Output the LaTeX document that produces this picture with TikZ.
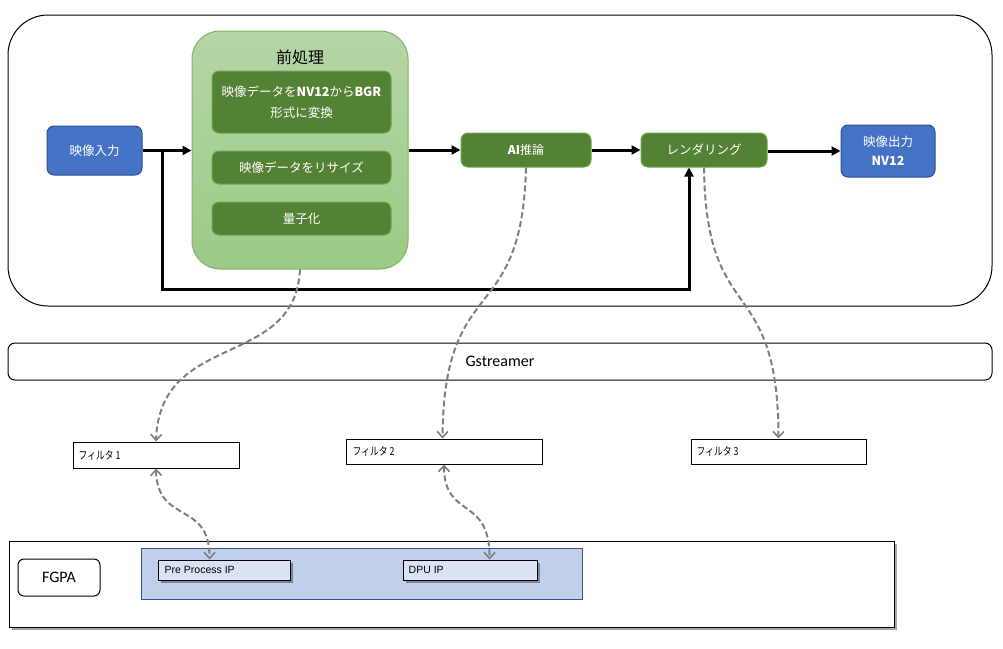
\documentclass[tikz,border=0pt]{standalone}
\usepackage{fontspec}
\setmainfont{Carlito}
\newfontfamily\jp{Noto Sans CJK JP}
\newfontfamily\lsans{Liberation Sans}
\usetikzlibrary{arrows.meta,shadows,calc}
\definecolor{bfill}{HTML}{4472C4}
\definecolor{bdraw}{HTML}{2F528F}
\definecolor{gtop}{HTML}{B5D6A7}
\definecolor{gbot}{HTML}{9CCA86}
\definecolor{gdraw}{HTML}{82B366}
\definecolor{dgfill}{HTML}{548235}
\definecolor{dgdraw}{HTML}{6AA84F}
\definecolor{regfill}{HTML}{C0CFEA}
\definecolor{regdraw}{HTML}{2F5597}
\definecolor{ipfill}{HTML}{DAE3F3}
\definecolor{dashgray}{HTML}{808080}
\begin{document}
\begin{tikzpicture}[x=1pt,y=-1pt,
  bx/.style 2 args={inner sep=0pt, minimum width=#1pt, minimum height=#2pt},
  bluebox/.style={fill=bfill, draw=bdraw, line width=1pt, rounded corners=7pt, text=white, align=center,
    font=\jp\fontsize{12.5}{19}\selectfont},
  greenbox/.style={fill=dgfill, draw=dgdraw, line width=1pt, rounded corners=7pt, text=white, align=center,
    font=\jp\fontsize{12.5}{21}\selectfont},
  plain/.style={draw=black, line width=1pt, fill=white},
  ftext/.style={anchor=west, inner sep=0pt, font=\jp\fontsize{11}{13}\selectfont},
  iptext/.style={anchor=west, inner sep=0pt, font=\lsans\fontsize{10.5}{12}\selectfont},
  blk/.style={line width=3pt, -{Triangle[length=9pt,width=9pt]}},
  dsh/.style={draw=dashgray, line width=2pt, dash pattern=on 6pt off 3pt},
  tipA/.style={-{Straight Barb[length=6pt,width=11pt,line width=1.6pt]}},
  tipB/.style={{Straight Barb[length=6pt,width=11pt,line width=1.6pt]}-{Straight Barb[length=6pt,width=11pt,line width=1.6pt]}},
  shd/.style={drop shadow={shadow xshift=2.5pt, shadow yshift=-2.5pt, opacity=0.35, fill=black}}
]
\useasboundingbox (0,0) rectangle (1003,648);
\fill[white] (0,0) rectangle (1003,648);

% outer application container
\node[bx={984}{291}, draw=black, line width=1pt, rounded corners=40pt] (outer) at (500,160.5) {};

% input
\node[bluebox, bx={95}{49}] (in) at (94.5,150.5) {映像入力};

% preprocessing group
\node[bx={216}{238}, draw=gdraw, line width=1pt, rounded corners=28pt, top color=gtop, bottom color=gbot] (pre) at (300,150) {};
\node[inner sep=0pt, font=\jp\fontsize{16}{18}\selectfont] (pret) at (300,57) {前処理};
\node[greenbox, bx={179}{62}] (p1) at (301.5,102) {映像データを{\bfseries NV12}から{\bfseries BGR}\\形式に変換};
\node[greenbox, bx={179}{33}] (p2) at (301.5,167.5) {映像データをリサイズ};
\node[greenbox, bx={179}{33}] (p3) at (301.5,218.5) {量子化};

% inference, rendering, output
\node[greenbox, bx={130}{34}, font=\jp\fontsize{12}{14}\selectfont] (ai) at (526,150) {{\bfseries AI}推論};
\node[greenbox, bx={126}{34}] (ren) at (704,150) {レンダリング};
\node[bluebox, bx={94}{52}] (out) at (888,151) {映像出力\\{\bfseries NV12}};

% main flow arrows
\draw[blk] (in.east) -- (in.east -| pre.west);
\draw[blk] (pre.east |- ai.west) -- (ai.west);
\draw[blk] (ai.east) -- (ren.west);
\draw[blk] (ren.east |- out.west) -- (out.west);
\coordinate (j) at (162,150.5);
\coordinate (b) at (689,289);
\draw[line width=3pt, -{Triangle[length=9pt,width=9pt]}] (j) |- (b) -- (b |- ren.south);

% Gstreamer
\node[bx={984}{37}, draw=black, line width=1pt, rounded corners=7pt, font=\fontsize{16}{18}\selectfont] (gst) at (500,361.5) {Gstreamer};

% filters
\node[plain, bx={166}{26}] (f1) at (156,455) {};
\node[plain, bx={196}{25}] (f2) at (444,451.5) {};
\node[plain, bx={175}{25}] (f3) at (778.5,451.5) {};
\node[ftext] (f1t) at ($(f1.west)+(6,0)$) {\scalebox{0.8}[1]{フィルタ 1}};
\node[ftext] (f2t) at ($(f2.west)+(7,0)$) {\scalebox{0.8}[1]{フィルタ 2}};
\node[ftext] (f3t) at ($(f3.west)+(6,0)$) {\scalebox{0.8}[1]{フィルタ 3}};

% FPGA
\node[plain, bx={885}{86}, shd] (fpga) at (451.5,584) {};
\node[bx={82}{37}, draw=black, line width=1pt, rounded corners=6pt, fill=white, font=\fontsize{16}{18}\selectfont] (lbl) at (59,577.5) {FGPA};
\node[bx={441}{51}, fill=regfill, draw=regdraw, line width=1pt] (reg) at (361.5,573.5) {};
\node[bx={132}{20}, fill=ipfill, draw=black, line width=1pt, shd] (pip) at (224,570) {};
\node[bx={134}{20}, fill=ipfill, draw=black, line width=1pt, shd] (dpu) at (470,570) {};
\node[iptext] (pipt) at ($(pip.west)+(7,0)$) {Pre Process IP};
\node[iptext] (dput) at ($(dpu.west)+(6,0)$) {DPU IP};

% dashed mappings
\coordinate (f2top) at ($(f2.north west)+(97,0)$);
\coordinate (piptop) at ($(pip.north west)+(52,0)$);
\coordinate (dputop) at ($(dpu.north west)+(87,0)$);
\draw[dsh, tipA] (pre.south) .. controls (295,370) and (160,330) .. (f1.north);
\draw[dsh, tipA] (ai.south) .. controls (522,330) and (444,270) .. (f2top);
\draw[dsh, tipA] (ren.south) .. controls (706,330) and (778,270) .. (f3.north);
\draw[dsh, tipB] (f1.south) .. controls (157,525) and (210,500) .. (piptop);
\draw[dsh, tipB] (f2.south) .. controls (444,520) and (490,495) .. (dputop);
\end{tikzpicture}
\end{document}
